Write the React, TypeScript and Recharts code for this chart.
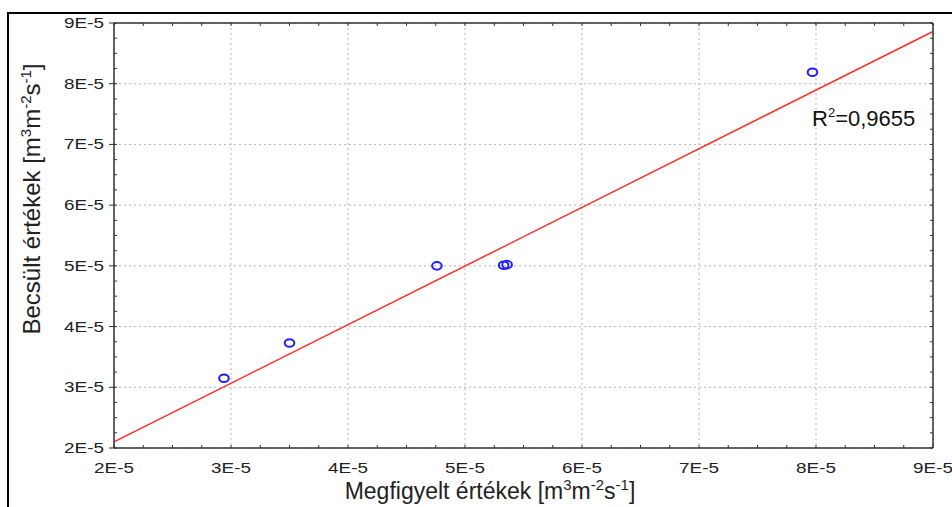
import { CartesianGrid, ReferenceLine, Scatter, ScatterChart, XAxis, YAxis } from "recharts";

// Adatok (m3 m-2 s-1)
const xTicks = [2e-5, 3e-5, 4e-5, 5e-5, 6e-5, 7e-5, 8e-5, 9e-5];
const yTicks = [2e-5, 3e-5, 4e-5, 5e-5, 6e-5, 7e-5, 8e-5, 9e-5];
const observed = [2.94e-5, 3.5e-5, 4.76e-5, 5.33e-5, 5.36e-5, 7.97e-5];
const estimated = [3.15e-5, 3.73e-5, 5.0e-5, 5.01e-5, 5.02e-5, 8.19e-5];
const fitObserved = [2e-5, 9e-5];
const fitEstimated = [2.1e-5, 8.86e-5];

// negyed osztások a kis tickeknek
const minorTicks = xTicks.flatMap((t, i) =>
  i < xTicks.length - 1 ? [t, t + 0.25e-5, t + 0.5e-5, t + 0.75e-5] : [t]
);

const DOMAIN: [number, number] = [2e-5, 9e-5];
const AXIS = "#333";
const FONT = "'Liberation Sans', Arial, sans-serif";

const points = observed.map((x, i) => ({ x, y: estimated[i] }));

const fmt = (v: number) => `${Math.round(v * 1e5)}E-5`;

function XTick({ x, y, payload }: any) {
  return (
    <g transform={`translate(${x},${y + 17})`}>
      <text transform="scale(1.35,1)" textAnchor="middle" fontSize={14} fontFamily={FONT} fill="#222">
        {fmt(payload.value)}
      </text>
    </g>
  );
}

function YTick({ x, y, payload }: any) {
  return (
    <g transform={`translate(${x - 3},${y + 5})`}>
      <text transform="scale(1.35,1)" textAnchor="end" fontSize={14} fontFamily={FONT} fill="#222">
        {fmt(payload.value)}
      </text>
    </g>
  );
}

const NoLabel = () => <g />;
const NoMark = () => <g />;

function Marker({ cx, cy }: any) {
  return <ellipse cx={cx} cy={cy} rx={4.8} ry={3.8} fill="none" stroke="#1f1fff" strokeWidth={2} />;
}

function Unit() {
  return (
    <>
      {" [m"}
      <tspan fontSize={15} dy={-9}>3</tspan>
      <tspan dy={9}>m</tspan>
      <tspan fontSize={15} dy={-9}>-2</tspan>
      <tspan dy={9}>s</tspan>
      <tspan fontSize={15} dy={-9}>-1</tspan>
      <tspan dy={9}>]</tspan>
    </>
  );
}

const minorProps = {
  dataKey: "x",
  type: "number" as const,
  mirror: true,
  domain: DOMAIN,
  ticks: minorTicks,
  tick: NoLabel,
  tickSize: 3,
  tickLine: { stroke: AXIS },
  interval: 0 as const,
  allowDataOverflow: true,
};

export default function App() {
  return (
    <div
      style={{
        position: "fixed",
        left: 0,
        top: 0,
        width: 952,
        height: 507,
        overflow: "hidden",
        background: "#fff",
      }}
    >
      <div
        style={{
          position: "absolute",
          left: 7,
          top: 12,
          width: 2000,
          height: 2000,
          border: "2px solid #000",
        }}
      />
      <div style={{ position: "absolute", left: 0, top: 0 }}>
        <ScatterChart width={952} height={507} margin={{ top: 23, right: 19, bottom: 0, left: 0 }}>
          <CartesianGrid stroke="#b5b5b5" strokeDasharray="2 3" />
          <XAxis
            dataKey="x"
            type="number"
            domain={DOMAIN}
            ticks={xTicks}
            height={59}
            tickLine={false}
            axisLine={{ stroke: AXIS, strokeWidth: 1.5 }}
            tick={<XTick />}
            interval={0}
          />
          <YAxis
            dataKey="y"
            type="number"
            domain={DOMAIN}
            ticks={yTicks}
            width={114}
            tickSize={5}
            tickLine={{ stroke: AXIS }}
            axisLine={{ stroke: AXIS, strokeWidth: 1.5 }}
            tick={<YTick />}
            interval={0}
          />
          <XAxis xAxisId="minorBottom" orientation="bottom" axisLine={false} {...minorProps} />
          <XAxis xAxisId="minorTop" orientation="top" axisLine={{ stroke: AXIS, strokeWidth: 1.5 }} {...minorProps} />
          <YAxis yAxisId="minorLeft" orientation="left" axisLine={false} {...minorProps} dataKey="y" />
          <YAxis yAxisId="minorRight" orientation="right" axisLine={{ stroke: AXIS, strokeWidth: 1.5 }} {...minorProps} dataKey="y" />
          <ReferenceLine
            segment={[
              { x: fitObserved[0], y: fitEstimated[0] },
              { x: fitObserved[1], y: fitEstimated[1] },
            ]}
            stroke="#ff2a2a"
            strokeWidth={1.5}
          />
          {/* láthatatlan sorozatok, hogy a kis-tick tengelyek is kapjanak skálát */}
          <Scatter data={points} xAxisId="minorTop" yAxisId="minorLeft" shape={NoMark} isAnimationActive={false} />
          <Scatter data={points} xAxisId="minorBottom" yAxisId="minorRight" shape={NoMark} isAnimationActive={false} />
          <Scatter data={points} shape={<Marker />} isAnimationActive={false} />
        </ScatterChart>
      </div>
      <svg
        width={952}
        height={507}
        style={{ position: "absolute", left: 0, top: 0, pointerEvents: "none" }}
        fontFamily={FONT}
      >
        <text x={490} y={499} textAnchor="middle" fontSize={23} fill="#222">
          Megfigyelt értékek
          <Unit />
        </text>
        <text
          transform="translate(40,199) rotate(-90)"
          textAnchor="middle"
          fontSize={24}
          fill="#222"
        >
          Becsült értékek
          <Unit />
        </text>
        <text x={812} y={126} fontSize={22} fill="#111">
          R<tspan fontSize={13} dy={-9}>2</tspan>
          <tspan dy={9}>=0,9655</tspan>
        </text>
      </svg>
    </div>
  );
}
